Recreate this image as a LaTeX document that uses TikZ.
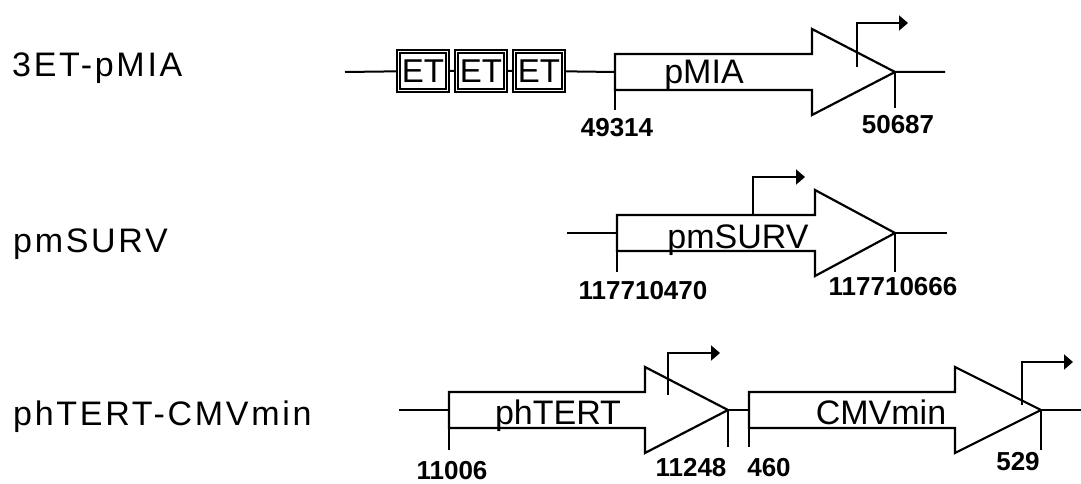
\documentclass[tikz,border=0pt]{standalone}
\usepackage{fontspec}
\setmainfont{Liberation Sans}
\newfontfamily\rowfont{Liberation Sans}[LetterSpace=8]
\usetikzlibrary{arrows.meta}

\begin{document}
\begin{tikzpicture}[x=1pt,y=-1pt,
        backbone/.style={line width=2pt},
        gene/.style={line width=2.2pt,line join=miter},
        postick/.style={line width=2pt},
        tss/.style={line width=1.8pt,-{Triangle[length=9pt,width=15pt]}},
        etbox/.style={draw,double,double distance=1.6pt,line width=1.8pt,
          fill=white,minimum width=49pt,minimum height=39pt,inner sep=0pt,
          outer sep=2.6pt,font=\fontsize{33}{33}\selectfont},
        rowlabel/.style={anchor=base west,inner sep=0pt,
          font=\rowfont\fontsize{34}{34}\selectfont},
        glabel/.style={anchor=base,inner sep=0pt,
          font=\fontsize{34}{34}\selectfont},
        num/.style={inner sep=0pt,font=\fontsize{26}{26}\selectfont\bfseries}]
        \useasboundingbox (0,0) rectangle (1081,484);

        % 3ET-pMIA: three ET boxes in front of pMIA.
        \node[rowlabel] (lab1) at (12,77) {3ET-pMIA};
        \node[etbox] (et1) at (423,71) {ET};
        \node[etbox] (et2) at (481,71) {ET};
        \node[etbox] (et3) at (539,71) {ET};
        \coordinate (mia-l) at (345,72);
        \coordinate (mia-s) at (615,72);
        \coordinate (mia-t) at (895,72);
        \coordinate (mia-r) at (945,72);
        \draw[backbone] (mia-l)--(et1) (et1)--(et2) (et2)--(et3)
          (et3)--(mia-s) (mia-t)--(mia-r);
        \draw[gene] (mia-s) ++(0,-18) -- ++(197,0) -- ++(0,-25) -- (mia-t)
          -- ++(-83,43) -- ++(0,-25) -- ++(-197,0) -- cycle;
        \node[glabel] (mia) at (704,84) {pMIA};
        \draw[postick] (mia-s) ++(0,18) -- ++(0,20);
        \draw[postick] (mia-t) -- ++(0,36);
        \node[num] (n49314) at (617,128) {49314};
        \node[num] (n50687) at (898,125) {50687};
        \coordinate (mia-p) at (857,67);
        \coordinate (mia-q) at (908,23);
        \draw[tss] (mia-p) |- (mia-q);

        % pmSURV.
        \node[rowlabel] (lab2) at (13,252) {pmSURV};
        \coordinate (surv-l) at (567,233);
        \coordinate (surv-s) at (617,233);
        \coordinate (surv-t) at (895,233);
        \coordinate (surv-r) at (947,233);
        \draw[backbone] (surv-l)--(surv-s) (surv-t)--(surv-r);
        \draw[gene] (surv-s) ++(0,-18) -- ++(198,0) -- ++(0,-25) -- (surv-t)
          -- ++(-80,43) -- ++(0,-25) -- ++(-198,0) -- cycle;
        \node[glabel] (surv) at (738,248) {pmSURV};
        \draw[postick] (surv-s) ++(0,18) -- ++(0,21);
        \draw[postick] (surv-t) -- ++(0,39);
        \node[num] (n117710470) at (643,291) {117710470};
        \node[num] (n117710666) at (893,287) {117710666};
        \coordinate (surv-p) at (753,215);
        \coordinate (surv-q) at (805,177);
        \draw[tss] (surv-p) |- (surv-q);

        % phTERT-CMVmin: two promoters in a row.
        \node[rowlabel] (lab3) at (13,425) {phTERT-CMVmin};
        \coordinate (tert-l) at (399,410);
        \coordinate (tert-s) at (449,410);
        \coordinate (tert-t) at (728,410);
        \coordinate (cmv-s) at (749,410);
        \coordinate (cmv-t) at (1041,410);
        \coordinate (cmv-r) at (1081,410);
        \draw[backbone] (tert-l)--(tert-s) (tert-t)--(cmv-s) (cmv-t)--(cmv-r);
        \draw[gene] (tert-s) ++(0,-18) -- ++(196,0) -- ++(0,-25) -- (tert-t)
          -- ++(-83,43) -- ++(0,-25) -- ++(-196,0) -- cycle;
        \draw[gene] (cmv-s) ++(0,-18) -- ++(206,0) -- ++(0,-25) -- (cmv-t)
          -- ++(-86,43) -- ++(0,-25) -- ++(-206,0) -- cycle;
        \node[glabel] (tert) at (558,424) {phTERT};
        \node[glabel] (cmv) at (881,424) {CMVmin};
        \draw[postick] (tert-s) ++(0,18) -- ++(0,22);
        \draw[postick] (tert-t) -- ++(0,37);
        \draw[postick] (cmv-s) ++(0,18) -- ++(0,19);
        \draw[postick] (cmv-t) -- ++(0,40);
        \node[num] (n11006) at (452,471) {11006};
        \node[num] (n11248) at (691,468) {11248};
        \node[num] (n460) at (769,468) {460};
        \node[num] (n529) at (1018,462) {529};
        \coordinate (tert-p) at (668,395);
        \coordinate (tert-q) at (720,353);
        \draw[tss] (tert-p) |- (tert-q);
        \coordinate (cmv-p) at (1022,405);
        \coordinate (cmv-q) at (1073,362);
        \draw[tss] (cmv-p) |- (cmv-q);
      \end{tikzpicture}
\end{document}
